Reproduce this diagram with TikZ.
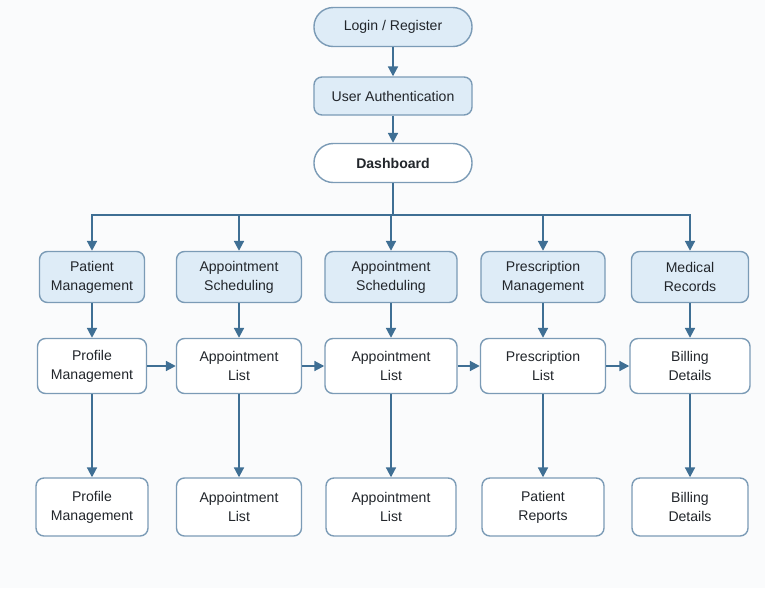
\documentclass[tikz,border=0pt]{standalone}
\usepackage{fontspec}
\setmainfont{Liberation Sans}
\usetikzlibrary{arrows.meta}
\definecolor{edge}{HTML}{7B9BB6}
\definecolor{flow}{HTML}{3F6F94}
\definecolor{tint}{HTML}{DEECF7}
\definecolor{paper}{HTML}{FAFBFC}
\definecolor{ink}{HTML}{22262B}

\begin{document}
\begin{tikzpicture}[x=0.025cm,y=-0.025cm,
        box/.style={draw=edge, line width=1pt, fill=white, rounded corners=0.2cm,
            align=center, text=ink, inner sep=2pt,
            font=\fontsize{10}{13.5}\selectfont},
        pill/.style={box, rounded corners=0.48cm, minimum width=3.95cm, minimum height=0.975cm},
        head/.style={box, fill=tint, minimum height=1.275cm},
        item/.style={box, minimum height=1.375cm},
        leaf/.style={box, minimum height=1.45cm},
        flow/.style={draw=flow, line width=1.4pt, -{Triangle[length=7pt,width=7pt]}}]

        \fill[paper] (0,0) rectangle (765,588);
        \useasboundingbox (0,0) rectangle (765,588);

        % top of the flow
        \node[pill, fill=tint] (login) at (393,27) {Login / Register};
        \node[box, fill=tint, minimum width=3.95cm, minimum height=0.95cm] (auth) at (393,96) {User Authentication};
        \node[pill] (dash) at (393,163) {\textbf{Dashboard}};

        \draw[flow] (login) -- (auth);
        \draw[flow] (auth) -- (dash);

        % modules
        \node[head, minimum width=2.625cm] (top1) at (92,277) {Patient\\Management};
        \node[head, minimum width=3.125cm] (top2) at (239,277) {Appointment\\Scheduling};
        \node[head, minimum width=3.3cm] (top3) at (391,277) {Appointment\\Scheduling};
        \node[head, minimum width=3.1cm] (top4) at (543,277) {Prescription\\Management};
        \node[head, minimum width=2.925cm] (top5) at (690,277) {Medical\\Records};

        \node[item, minimum width=2.725cm] (mid1) at (92,366) {Profile\\Management};
        \node[item, minimum width=3.125cm] (mid2) at (239,366) {Appointment\\List};
        \node[item, minimum width=3.3cm] (mid3) at (391,366) {Appointment\\List};
        \node[item, minimum width=3.125cm] (mid4) at (543,366) {Prescription\\List};
        \node[item, minimum width=3cm] (mid5) at (690,366) {Billing\\Details};

        \node[leaf, minimum width=2.8cm] (bot1) at (92,507) {Profile\\Management};
        \node[leaf, minimum width=3.125cm] (bot2) at (239,507) {Appointment\\List};
        \node[leaf, minimum width=3.25cm] (bot3) at (391,507) {Appointment\\List};
        \node[leaf, minimum width=3.05cm] (bot4) at (543,507) {Patient\\Reports};
        \node[leaf, minimum width=2.9cm] (bot5) at (690,507) {Billing\\Details};

        % bus from the dashboard
        \coordinate (bus) at (393,215);
        \coordinate (busL) at (92,215);
        \coordinate (busR) at (690,215);
        \draw[flow, -] (dash) -- (bus);
        \draw[flow, -, line cap=rect] (busL) -- (busR);

        \foreach \i in {1,...,5}{
            \draw[flow] (top\i.north |- bus) -- (top\i);
            \draw[flow] (top\i) -- (mid\i);
            \draw[flow] (mid\i) -- (bot\i);
        }
        \foreach \i/\j in {1/2,2/3,3/4,4/5}
            \draw[flow] (mid\i) -- (mid\j);
    \end{tikzpicture}
\end{document}
